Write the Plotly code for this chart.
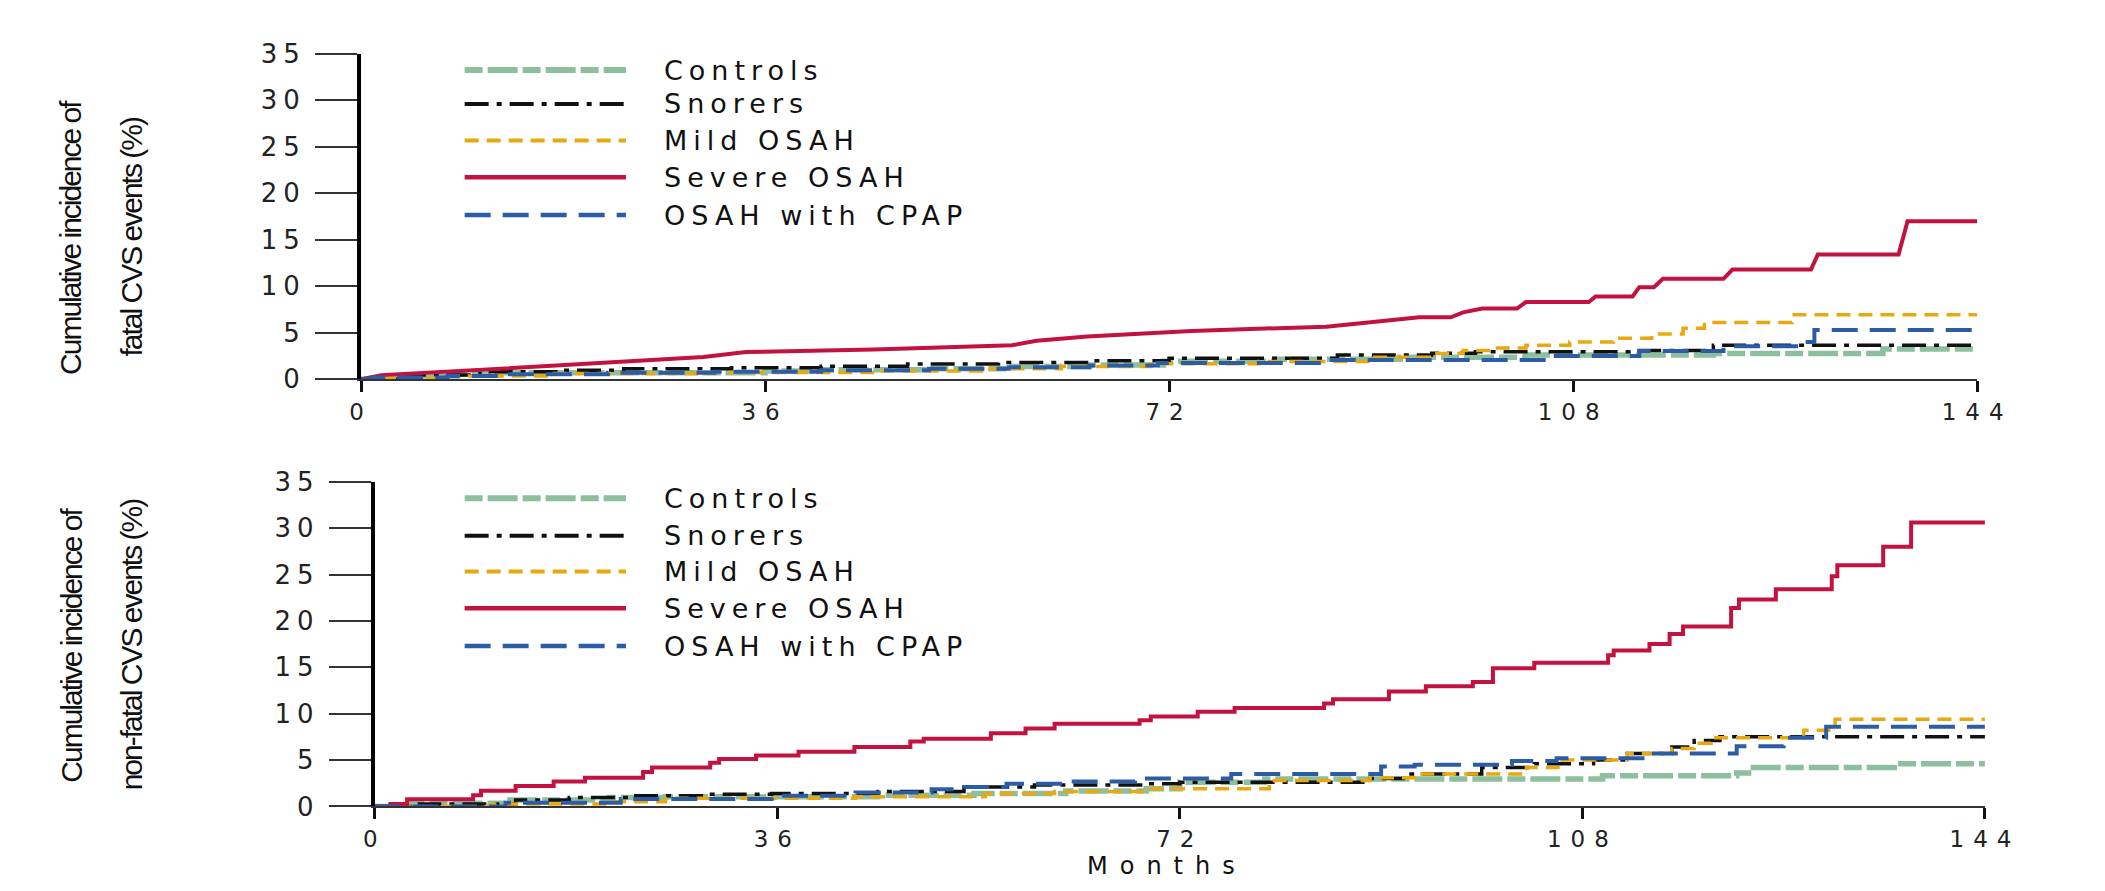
import plotly.graph_objects as go
from plotly.subplots import make_subplots

# ---- data (months, cumulative incidence %) ----
months_ticks = [0, 36, 72, 108, 144]
pct_ticks = [0, 5, 10, 15, 20, 25, 30, 35]
groups = ["Controls", "Snorers", "Mild OSAH", "Severe OSAH", "OSAH with CPAP"]

# fatal CVS events
fatal_controls_t = [0, 2.9, 8.6, 12.4, 36, 41, 50.6, 57.7, 64.9, 71.5, 81.5, 92.6, 103.8, 120.5, 135.6, 144]
fatal_controls_v = [0, 0.35, 0.55, 0.7, 0.9, 1.03, 1.14, 1.38, 1.55, 1.93, 2.15, 2.36, 2.6, 2.78, 3.25, 3.25]
fatal_snorers_t = [0, 3.9, 10.6, 17.7, 23.4, 33, 41, 48.7, 56.8, 64.9, 72, 87, 95.4, 99.3, 113.9, 120.5, 144]
fatal_snorers_v = [0, 0.45, 0.8, 0.97, 1.14, 1.24, 1.4, 1.65, 1.8, 2.0, 2.26, 2.6, 2.8, 2.95, 3.1, 3.65, 3.65]
fatal_mild_t = [0, 2, 7.7, 17.2, 31.5, 45.8, 55.3, 62.4, 70.3, 80, 90, 95.4, 98.2, 101, 103.8, 107.7,
                111.6, 115, 117.8, 119.7, 127.5, 144]
fatal_mild_v = [0, 0.1, 0.35, 0.62, 0.72, 0.9, 1.14, 1.38, 1.67, 1.9, 2.36, 2.78, 3.1, 3.37, 3.65, 4.0,
                4.4, 4.86, 5.5, 6.1, 6.94, 6.94]
fatal_severe_t = [0, 1.8, 12.5, 18.2, 24.8, 30.5, 34.3, 45.7, 58, 60.2, 64.7, 71.4, 74, 86, 94.3, 97.1,
                  98.2, 99.9, 103, 103.8, 109.4, 110, 113.3, 113.9, 115.2, 116, 121.4, 122.2, 129.2,
                  129.8, 137, 137.8, 144]
fatal_severe_v = [0, 0.45, 1.14, 1.55, 1.93, 2.4, 2.93, 3.2, 3.66, 4.14, 4.6, 5.0, 5.2, 5.66, 6.67, 6.67,
                  7.2, 7.6, 7.6, 8.3, 8.3, 8.9, 8.9, 9.9, 9.9, 10.8, 10.8, 11.8, 11.8,
                  13.4, 13.4, 17.0, 17.0]
fatal_cpap_t = [0, 1, 7.7, 12.5, 22, 31.5, 41, 50.6, 57.7, 64.9, 71, 86, 106, 113.9, 121.4, 128.9, 129.5, 144]
fatal_cpap_v = [0, 0.2, 0.35, 0.55, 0.7, 0.8, 0.97, 1.14, 1.3, 1.48, 1.74, 2.08, 2.5, 3.05, 3.54, 4.0, 5.3, 5.3]

# non-fatal CVS events
nonfatal_controls_t = [0, 3.1, 11.7, 21, 26, 45, 53.6, 61.8, 69, 72, 79.6, 109.8, 121.8, 123.3, 135.9, 144]
nonfatal_controls_v = [0, 0.35, 0.7, 0.95, 1.05, 1.2, 1.4, 1.65, 1.9, 2.6, 2.95, 3.3, 3.6, 4.2, 4.6, 4.6]
nonfatal_snorers_t = [0, 4, 12.6, 17.4, 23, 29.8, 35.5, 45, 52.7, 59, 69, 72, 89, 92, 99, 103.7, 109,
                      112, 116, 118, 120.3, 144]
nonfatal_snorers_v = [0, 0.25, 0.7, 0.95, 1.15, 1.3, 1.4, 1.6, 2.1, 2.3, 2.45, 2.6, 3.0, 3.5, 4.2, 4.6, 5.0,
                      5.7, 6.4, 7.1, 7.5, 7.5]
nonfatal_mild_t = [0, 10.5, 21, 26, 43, 54.6, 60.8, 69, 80, 89, 93, 103, 106, 112, 116, 118, 119.5,
                   127.8, 130.6, 144]
nonfatal_mild_v = [0, 0.25, 0.5, 0.87, 1.05, 1.4, 1.6, 1.9, 2.8, 3.1, 3.5, 4.2, 5.0, 5.7, 6.25, 6.8, 7.4,
                   8.2, 9.4, 9.4]
nonfatal_severe_t = [0, 1.4, 2.9, 8.8, 9.5, 12.6, 16, 18.8, 24, 24.8, 30, 30.8, 34.1, 37.9, 42.9, 47.9,
                     49.1, 55.1, 58.2, 60.8, 68.4, 69.4, 73.6, 76.9, 84.9, 85.7, 90.7, 94, 98.2, 100,
                     103.7, 110.3, 110.8, 114, 115.8, 117, 121.3, 122, 125.3, 130.3, 130.8, 134.9,
                     137.4, 144]
nonfatal_severe_v = [0, 0.25, 0.77, 1.2, 1.7, 2.2, 2.7, 3.1, 3.7, 4.2, 4.7, 5.1, 5.5, 5.9, 6.4, 7.0,
                     7.3, 7.9, 8.4, 8.9, 9.3, 9.7, 10.2, 10.6, 11.1, 11.56, 12.4, 12.95, 13.4, 14.9,
                     15.5, 16.3, 16.8, 17.5, 18.6, 19.4, 21.4, 22.3, 23.4, 24.8, 26.0, 28.0,
                     30.6, 30.6]
nonfatal_cpap_t = [0, 11.7, 22, 35.5, 43, 49.8, 52.7, 56.5, 62, 68, 76.6, 90, 93, 101.7, 105.7, 113.8,
                   121.8, 126, 129.8, 144]
nonfatal_cpap_v = [0, 0.4, 0.8, 1.15, 1.5, 1.85, 2.1, 2.45, 2.7, 3.0, 3.5, 4.3, 4.5, 4.9, 5.2, 5.7,
                   6.5, 7.4, 8.6, 8.6]

# ---- styles ----
W, H = 2105, 891
colors = ["#8dbf9f", "#111111", "#e8a910", "#c2123f", "#2d5ca6"]
widths = [5.5, 3.5, 3.5, 4, 4]
dashes = ["18px,5px,30px,5px", "24px,8px,5px,8px", "14px,8px", "solid", "26px,12px"]
TICK_FONT = dict(family="DejaVu Sans", size=26, color="#222222")
XTICK_FONT = dict(family="DejaVu Sans", size=23, color="#222222")


def spaced(s, ls=5):
    return "<span style='letter-spacing:%dpx'>%s</span>" % (ls, s)


fig = make_subplots(rows=2, cols=1)

panels = [
    (1, [(fatal_controls_t, fatal_controls_v), (fatal_snorers_t, fatal_snorers_v),
         (fatal_mild_t, fatal_mild_v), (fatal_severe_t, fatal_severe_v),
         (fatal_cpap_t, fatal_cpap_v)]),
    (2, [(nonfatal_controls_t, nonfatal_controls_v), (nonfatal_snorers_t, nonfatal_snorers_v),
         (nonfatal_mild_t, nonfatal_mild_v), (nonfatal_severe_t, nonfatal_severe_v),
         (nonfatal_cpap_t, nonfatal_cpap_v)]),
]
for row, series in panels:
    for i, (t, v) in enumerate(series):
        shape = "linear" if (row == 1 and i == 3) else "hv"
        fig.add_trace(go.Scatter(x=t, y=v, mode="lines", name=groups[i], showlegend=False,
                                 line=dict(color=colors[i], width=widths[i], dash=dashes[i],
                                           shape=shape)),
                      row=row, col=1)

# axes domains in pixels -> paper
top_x = [357 / W, 2010 / W]
top_y = [1 - 377 / H, 1 - 40 / H]
bot_x = [371 / W, 2018 / W]
bot_y = [1 - 819 / H, 1 - 483 / H]

for row, dx, dy in [(1, top_x, top_y), (2, bot_x, bot_y)]:
    fig.update_xaxes(domain=dx, range=[0, 144], tickvals=months_ticks,
                     ticktext=[spaced(str(m), 9) for m in months_ticks],
                     showgrid=False, zeroline=False, showline=True, linecolor="#333333", linewidth=2,
                     ticks="outside", ticklen=11, tickwidth=3, tickcolor="#111111",
                     ticklabelstandoff=0, tickfont=XTICK_FONT, row=row, col=1)
    fig.update_yaxes(domain=dy, range=[0, 35], tickvals=pct_ticks,
                     ticktext=[spaced(str(p), 6) for p in pct_ticks],
                     showgrid=False, zeroline=False, showline=True, linecolor="#000000", linewidth=4,
                     ticks="outside", ticklen=42, tickwidth=2, tickcolor="#333333",
                     ticklabelstandoff=4, tickfont=TICK_FONT, row=row, col=1)

# hand-made legends (long line samples like the original)
shapes = []
annotations = []
legend_rows = [[57, 92, 130, 168, 207], [500, 539, 576, 614, 653]]
for rows_y in legend_rows:
    for i, yy in enumerate(rows_y):
        shapes.append(dict(type="line", xref="paper", yref="paper",
                           x0=463 / W, x1=628 / W, y0=1 - yy / H, y1=1 - yy / H,
                           line=dict(color=colors[i], width=widths[i] + 0.5,
                                     dash=dashes[i])))
        annotations.append(dict(xref="paper", yref="paper", x=665 / W, y=1 - yy / H,
                                xanchor="left", yanchor="middle", showarrow=False,
                                text=spaced(groups[i], 6),
                                font=dict(family="DejaVu Sans", size=27, color="#111111")))

# y axis titles (two separate lines, squeezed face)
ytitles = [
    (230, ["Cumulative incidence of", "fatal CVS events (%)"]),
    (652, ["Cumulative incidence of", "non-fatal CVS events (%)"]),
]
for yc, lines in ytitles:
    for xx, txt in zip([60, 122], lines):
        annotations.append(dict(xref="paper", yref="paper", x=xx / W, y=1 - yc / H,
                                xanchor="center", yanchor="middle", showarrow=False,
                                textangle=-90, text=spaced(txt, -2),
                                font=dict(family="Liberation Sans, Arial", size=30,
                                          color="#111111")))

annotations.append(dict(xref="paper", yref="paper", x=1181 / W, y=0,
                        xanchor="center", yanchor="bottom", yshift=-5, borderpad=0,
                        showarrow=False, text=spaced("Months", 12),
                        font=dict(family="DejaVu Sans", size=24, color="#111111")))

fig.update_layout(width=W, height=H, margin=dict(l=0, r=0, t=0, b=0),
                  paper_bgcolor="white", plot_bgcolor="white",
                  shapes=shapes, annotations=annotations)

fig.write_html("out.html", config={"displayModeBar": False},
               post_script="document.body.style.margin='0';document.body.style.overflow='hidden';")
